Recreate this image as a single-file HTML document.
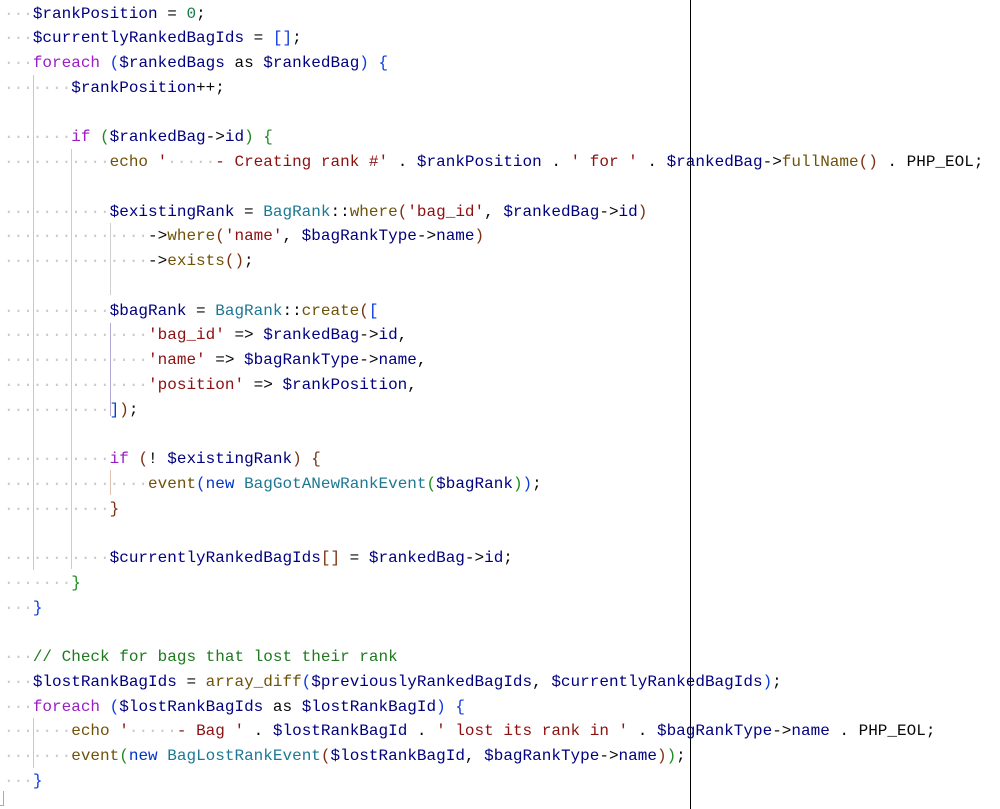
<!DOCTYPE html>
<html><head><meta charset="utf-8"><style>
html,body{margin:0;padding:0;background:#fff;width:1000px;height:809px;overflow:hidden;position:relative}
#code{position:absolute;left:4px;top:1.5px;font-family:"Liberation Mono",monospace;font-size:16px;line-height:24.75px;white-space:pre;color:#080808}
.d{color:#c8c8c8}
.v{color:#000080}
.k{color:#9a1ec6}
.f{color:#6f5208}
.s{color:#8c1010}
.n{color:#127a4a}
.c{color:#1f7a1f}
.w{color:#0033c8}
.t{color:#1d7893}
.b1{color:#0a3ae0}
.b2{color:#1f8a1f}
.b3{color:#7a3010}
.g{position:absolute;width:1px}
</style></head><body>
<div class="g" style="left:33px;top:75px;height:495px;background:#b8c8f4"></div>
<div class="g" style="left:71px;top:149px;height:420px;background:#b8dcb4"></div>
<div class="g" style="left:110px;top:223px;height:72px;background:#cfcfcf"></div>
<div class="g" style="left:110px;top:323px;height:93px;background:#b0acd8"></div>
<div class="g" style="left:110px;top:470px;height:25px;background:#e0c0b0"></div>
<div class="g" style="left:33px;top:718px;height:50px;background:#b8c8f4"></div>
<div class="g" style="left:690px;top:0;height:809px;background:#000"></div>
<div style="position:absolute;left:0;top:791px;width:3px;height:14px;border-right:1px solid #c9a08a;border-bottom:1px solid #c9a08a"></div>
<div id="code"><span class="d">···</span><span class="v">$rankPosition</span> = <span class="n">0</span>;
<span class="d">···</span><span class="v">$currentlyRankedBagIds</span> = <span class="b1">[]</span>;
<span class="d">···</span><span class="k">foreach</span> <span class="b1">(</span><span class="v">$rankedBags</span> as <span class="v">$rankedBag</span><span class="b1">)</span> <span class="b1">{</span>
<span class="d">·······</span><span class="v">$rankPosition</span>++;

<span class="d">·······</span><span class="k">if</span> <span class="b2">(</span><span class="v">$rankedBag</span>-&gt;<span class="v">id</span><span class="b2">)</span> <span class="b2">{</span>
<span class="d">···········</span><span class="f">echo</span> <span class="s">'</span><span class="d">·····</span><span class="s">- Creating rank #'</span> . <span class="v">$rankPosition</span> . <span class="s">' for '</span> . <span class="v">$rankedBag</span>-&gt;<span class="f">fullName</span><span class="b3">()</span> . PHP_EOL;

<span class="d">···········</span><span class="v">$existingRank</span> = <span class="t">BagRank</span>::<span class="f">where</span><span class="b3">(</span><span class="s">'bag_id'</span>, <span class="v">$rankedBag</span>-&gt;<span class="v">id</span><span class="b3">)</span>
<span class="d">···············</span>-&gt;<span class="f">where</span><span class="b3">(</span><span class="s">'name'</span>, <span class="v">$bagRankType</span>-&gt;<span class="v">name</span><span class="b3">)</span>
<span class="d">···············</span>-&gt;<span class="f">exists</span><span class="b3">()</span>;

<span class="d">···········</span><span class="v">$bagRank</span> = <span class="t">BagRank</span>::<span class="f">create</span><span class="b3">(</span><span class="b1">[</span>
<span class="d">···············</span><span class="s">'bag_id'</span> =&gt; <span class="v">$rankedBag</span>-&gt;<span class="v">id</span>,
<span class="d">···············</span><span class="s">'name'</span> =&gt; <span class="v">$bagRankType</span>-&gt;<span class="v">name</span>,
<span class="d">···············</span><span class="s">'position'</span> =&gt; <span class="v">$rankPosition</span>,
<span class="d">···········</span><span class="b1">]</span><span class="b3">)</span>;

<span class="d">···········</span><span class="k">if</span> <span class="b3">(</span>! <span class="v">$existingRank</span><span class="b3">)</span> <span class="b3">{</span>
<span class="d">···············</span><span class="f">event</span><span class="b1">(</span><span class="w">new</span> <span class="t">BagGotANewRankEvent</span><span class="b2">(</span><span class="v">$bagRank</span><span class="b2">)</span><span class="b1">)</span>;
<span class="d">···········</span><span class="b3">}</span>

<span class="d">···········</span><span class="v">$currentlyRankedBagIds</span><span class="b3">[]</span> = <span class="v">$rankedBag</span>-&gt;<span class="v">id</span>;
<span class="d">·······</span><span class="b2">}</span>
<span class="d">···</span><span class="b1">}</span>

<span class="d">···</span><span class="c">// Check for bags that lost their rank</span>
<span class="d">···</span><span class="v">$lostRankBagIds</span> = <span class="f">array_diff</span><span class="b1">(</span><span class="v">$previouslyRankedBagIds</span>, <span class="v">$currentlyRankedBagIds</span><span class="b1">)</span>;
<span class="d">···</span><span class="k">foreach</span> <span class="b1">(</span><span class="v">$lostRankBagIds</span> as <span class="v">$lostRankBagId</span><span class="b1">)</span> <span class="b1">{</span>
<span class="d">·······</span><span class="f">echo</span> <span class="s">'</span><span class="d">·····</span><span class="s">- Bag '</span> . <span class="v">$lostRankBagId</span> . <span class="s">' lost its rank in '</span> . <span class="v">$bagRankType</span>-&gt;<span class="v">name</span> . PHP_EOL;
<span class="d">·······</span><span class="f">event</span><span class="b2">(</span><span class="w">new</span> <span class="t">BagLostRankEvent</span><span class="b3">(</span><span class="v">$lostRankBagId</span>, <span class="v">$bagRankType</span>-&gt;<span class="v">name</span><span class="b3">)</span><span class="b2">)</span>;
<span class="d">···</span><span class="b1">}</span></div>
</body></html>
